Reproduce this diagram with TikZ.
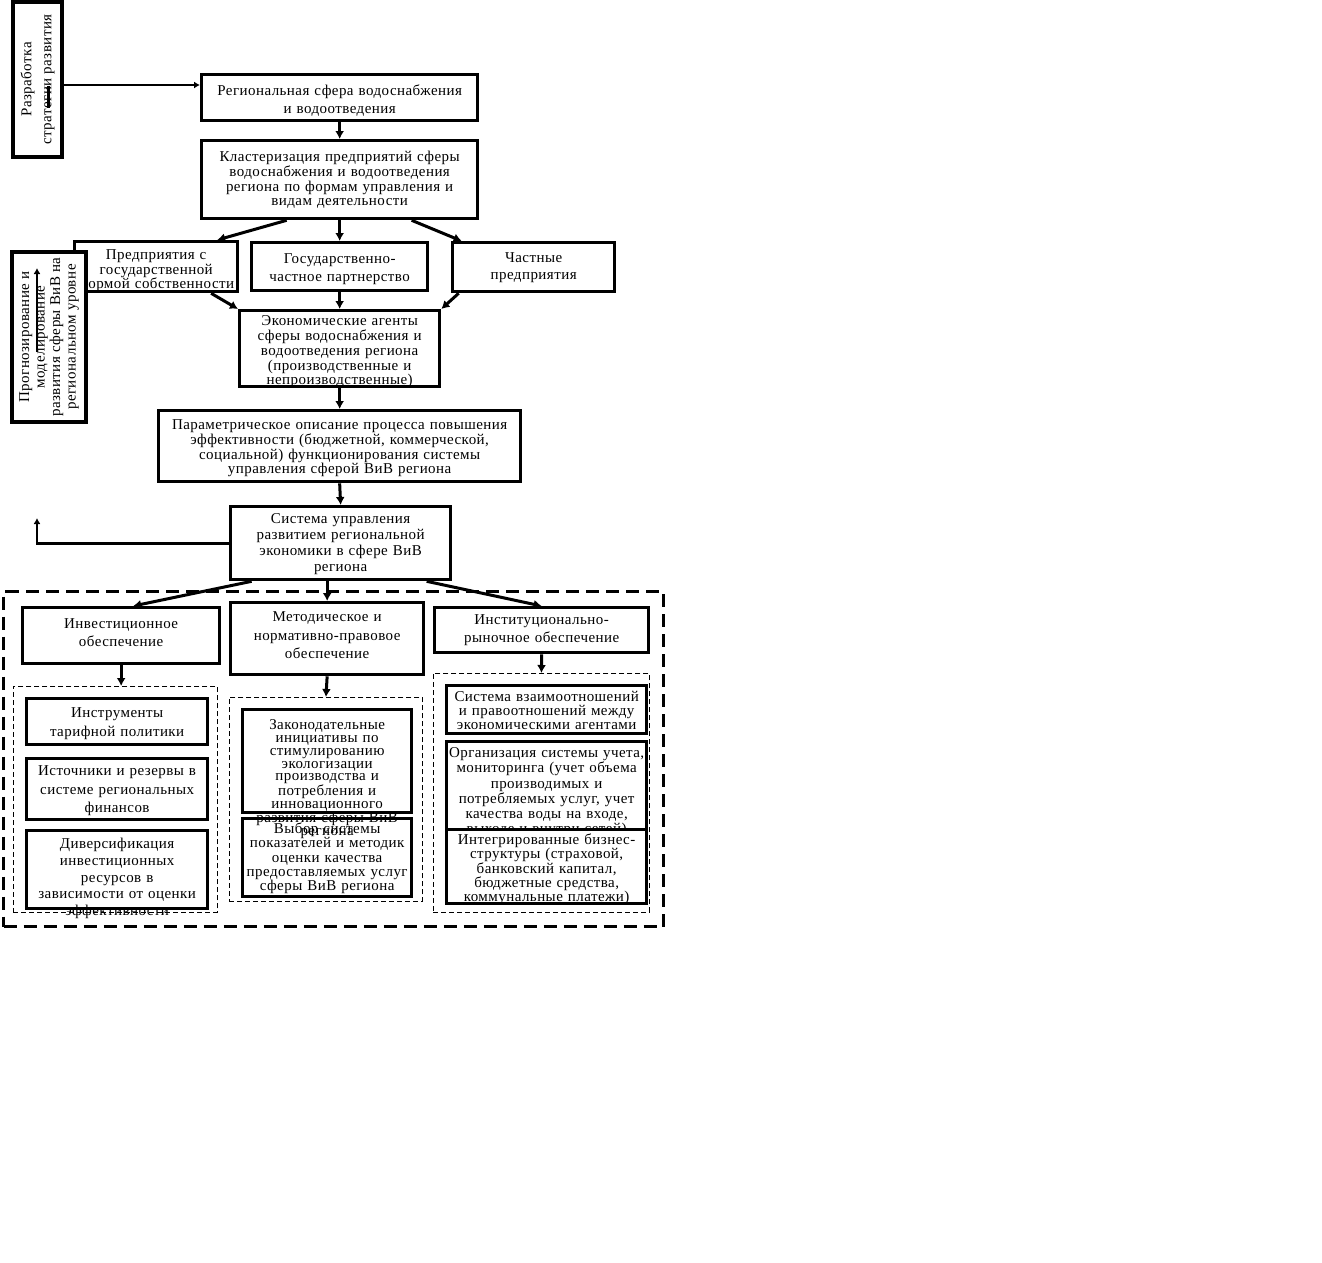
\documentclass[tikz,border=0pt]{standalone}
\usepackage{fontspec}
\setmainfont{Liberation Serif}[LetterSpace=3]
\usetikzlibrary{arrows.meta}
\tikzset{
  blk/.style={draw, line width=3.3pt, fill=white, anchor=north west, align=center,
    inner sep=0pt, font=\fontsize{15}{14.7}\selectfont, text height=20pt},
  vblk/.style={draw, line width=3.3pt, fill=white, rotate=90, align=center,
    inner sep=0pt, font=\fontsize{15}{15.5}\selectfont},
  sp/.style={font=\fontsize{15}{#1}\selectfont},
  frm/.style={draw, line width=0.9pt, dash pattern=on 5pt off 3pt, anchor=north west, inner sep=0pt},
  bigfrm/.style={draw, line width=3pt, dash pattern=on 13pt off 7pt, anchor=north west, inner sep=0pt},
  arr/.style={line width=3pt, -{Latex[length=8pt,width=9pt]}},
  sarr/.style={line width=2.8pt, -{Latex[length=6pt,width=7pt]}}
}
\begin{document}
\begin{tikzpicture}[x=1pt,y=-1pt]
        \useasboundingbox (0,0) rectangle (1322,1262);

        % top part
        \node[vblk, minimum width=155pt, minimum height=49pt, sp=20] (razr) at (37.5,79.5) {Разработка\\стратегии развития};
        \draw[line width=3pt] (48,86) -- (48,108);
        \node[blk, text width=276pt, text height=21pt, text depth=25pt, sp=18] (reg) at (200,73) {Региональная сфера водоснабжения\\и водоотведения};
        \node[blk, text width=276pt, text height=21pt, text depth=57pt] (klast) at (200,139) {Кластеризация предприятий сферы\\водоснабжения и водоотведения\\региона по формам управления и\\видам деятельности};

        \node[blk, text width=163pt, text height=18pt, text depth=32pt, sp=14.5] (gos) at (73,240) {Предприятия с\\государственной\\формой собственности};
        \node[blk, text width=176pt, text height=21pt, text depth=27pt, sp=18] (gchp) at (250,241) {Государственно-\\частное партнерство};
        \node[blk, text width=162pt, text height=20pt, text depth=29pt, sp=17] (chast) at (451,241) {Частные\\предприятия};
        \node[vblk, minimum width=170pt, minimum height=74pt] (prog) at (49,337) {Прогнозирование и\\моделирование\\развития сферы ВиВ на\\региональном уровне};

        \node[blk, text width=200pt, text height=15pt, text depth=61pt, sp=14.8] (econ) at (238,309) {Экономические агенты\\сферы водоснабжения и\\водоотведения региона\\(производственные и\\непроизводственные)};
        \node[blk, text width=362pt, text height=19pt, text depth=52pt] (param) at (157,409) {Параметрическое описание процесса повышения\\эффективности (бюджетной, коммерческой,\\социальной) функционирования системы\\управления сферой ВиВ региона};
        \node[blk, text width=220pt, text height=17pt, text depth=56pt, sp=16] (sys) at (229,505) {Система управления\\развитием региональной\\экономики в сфере ВиВ\\региона};

        % lower part
        \node[bigfrm, minimum width=660pt, minimum height=335pt] (frame) at (2,590) {};
        \node[frm, minimum width=204pt, minimum height=226pt] (d1) at (13,686) {};
        \node[frm, minimum width=193pt, minimum height=204pt] (d2) at (229,697) {};
        \node[frm, minimum width=216pt, minimum height=239pt] (d3) at (433,673) {};

        \node[blk, text width=197pt, text height=21pt, text depth=35pt, sp=18] (inv) at (21,606) {Инвестиционное\\обеспечение};
        \node[blk, text width=193pt, text height=19pt, text depth=53pt, sp=18.5] (met) at (229,601) {Методическое и\\нормативно-правовое\\обеспечение};
        \node[blk, text width=214pt, text height=17pt, text depth=28pt, sp=18] (inst) at (433,606) {Институционально-\\рыночное обеспечение};

        \node[blk, text width=181pt, text height=19pt, text depth=27pt, sp=18.5] (instr) at (25,697) {Инструменты\\тарифной политики};
        \node[blk, text width=181pt, text height=17pt, text depth=44pt, sp=18.5] (ist) at (25,757) {Источники и резервы в\\системе региональных\\финансов};
        \node[blk, text width=181pt, text height=18pt, text depth=60pt, sp=16.7] (div) at (25,829) {Диверсификация\\инвестиционных\\ресурсов в\\зависимости от оценки\\эффективности};

        \node[blk, text width=169pt, text height=20pt, text depth=83pt, sp=12.8] (zak) at (241,708) {Законодательные\\инициативы по\\стимулированию\\экологизации\\производства и\\потребления и\\инновационного\\развития сферы ВиВ\\региона};
        \node[blk, fill=none, text width=169pt, text height=15pt, text depth=63pt, sp=14.3] (vyb) at (241,817) {Выбор системы\\показателей и методик\\оценки качества\\предоставляемых услуг\\сферы ВиВ региона};

        \node[blk, text width=200pt, text height=16pt, text depth=32pt, sp=14] (vzaim) at (445,684) {Система взаимоотношений\\и правоотношений между\\экономическими агентами};
        \node[blk, text width=200pt, text height=16pt, text depth=73pt, sp=15.2] (org) at (445,740) {Организация системы учета,\\мониторинга (учет объема\\производимых и\\потребляемых услуг, учет\\качества воды на входе,\\выходе и внутри сетей)};
        \node[blk, text width=200pt, text height=15pt, text depth=59pt, sp=14.3] (integ) at (445,828) {Интегрированные бизнес-\\структуры (страховой,\\банковский капитал,\\бюджетные средства,\\коммунальные платежи)};

        % arrows
        \coordinate (sysup) at (37,518);
        \coordinate (pa) at (37,352);
        \coordinate (pb) at (37,268);
        \draw[sarr] ([yshift=-5.5pt]razr.south) -- ([yshift=-5.5pt]razr.south -| reg.west);
        \draw[arr] (reg.south) -- (klast.north);
        \draw[arr] ([xshift=-53pt]klast.south) -- ([xshift=61pt]gos.north);
        \draw[arr] (klast.south) -- (gchp.north);
        \draw[arr] ([xshift=72pt]klast.south) -- ([xshift=-72pt]chast.north);
        \draw[arr] ([xshift=55pt]gos.south) -- (econ.north west);
        \draw[arr] (gchp.south) -- (econ.north);
        \draw[arr] ([xshift=-75pt]chast.south) -- (econ.north east);
        \draw[arr] (econ.south) -- (param.north);
        \draw[arr] (param.south) -- (sys.north);
        \draw[sarr] (pa) -- (pb);
        \draw[sarr] (sys.west) -| (sysup);
        \draw[arr] ([xshift=-89pt]sys.south) -- ([xshift=12pt]inv.north);
        \draw[arr] (met.north |- sys.south) -- (met.north);
        \draw[arr] ([xshift=86pt]sys.south) -- (inst.north);
        \draw[arr] (inv.south) -- (inv.south |- d1.north);
        \draw[arr] (met.south) -- (d2.north);
        \draw[arr] (inst.south) -- (d3.north);
\end{tikzpicture}
\end{document}
